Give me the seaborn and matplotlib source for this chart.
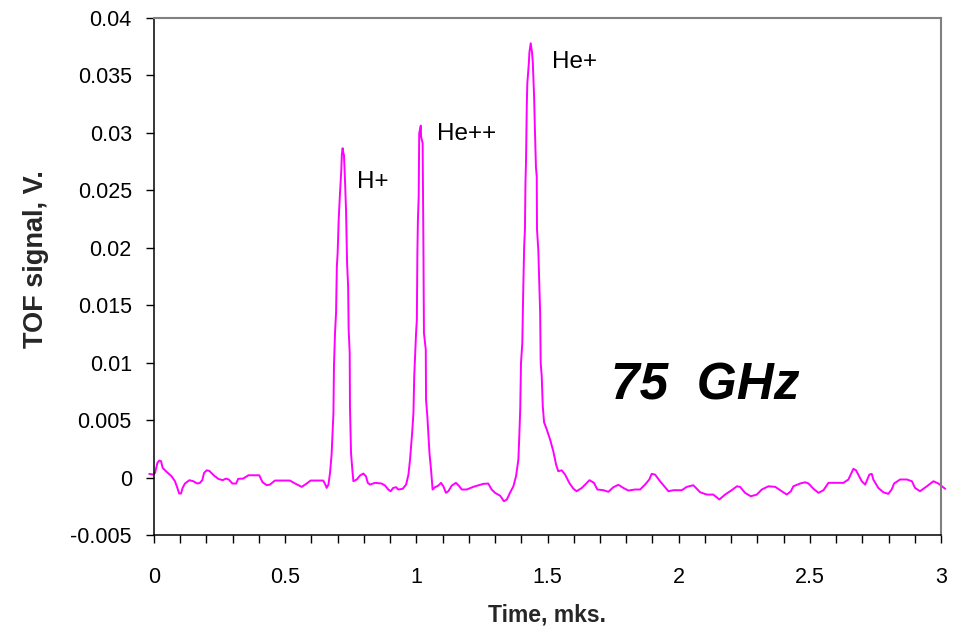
import matplotlib
matplotlib.use("Agg")
import matplotlib.pyplot as plt
import seaborn as sns
import pandas as pd
from matplotlib.ticker import MultipleLocator, FuncFormatter

time_mks = [
    -0.018, -0.003, 0.004, 0.013, 0.020, 0.027, 0.033, 0.048, 0.067, 0.080,
    0.089, 0.096, 0.103, 0.109, 0.118, 0.135, 0.150, 0.165, 0.175, 0.184,
    0.191, 0.201, 0.211, 0.229, 0.245, 0.262, 0.274, 0.285, 0.299, 0.313,
    0.321, 0.340, 0.360, 0.401, 0.414, 0.430, 0.442, 0.461, 0.518, 0.538,
    0.563, 0.582, 0.597, 0.645, 0.655, 0.658, 0.665,
    0.671, 0.677, 0.684, 0.686, 0.690, 0.694, 0.697, 0.700, 0.704, 0.709,
    0.714, 0.716, 0.719, 0.722, 0.724, 0.728, 0.732, 0.736, 0.740, 0.742,
    0.746, 0.747, 0.751, 0.756, 0.760, 0.773, 0.785, 0.798, 0.808, 0.815,
    0.823, 0.843, 0.868, 0.881, 0.893, 0.902, 0.912, 0.923, 0.931, 0.948,
    0.961, 0.970, 0.976, 0.984, 0.989, 0.992, 0.999, 1.002, 1.004, 1.006,
    1.009, 1.011, 1.017, 1.018, 1.024, 1.027, 1.029, 1.036, 1.037, 1.042,
    1.050, 1.056, 1.062, 1.071, 1.084, 1.094, 1.103, 1.113, 1.122, 1.135,
    1.151, 1.164, 1.173, 1.192, 1.217, 1.255, 1.274, 1.287, 1.300, 1.319,
    1.334, 1.345, 1.357, 1.370, 1.380, 1.389,
    1.392, 1.396, 1.399, 1.404, 1.407, 1.411, 1.414, 1.416, 1.418, 1.421,
    1.423, 1.429, 1.431, 1.436, 1.441, 1.444, 1.449, 1.452, 1.456, 1.459,
    1.460, 1.465, 1.472, 1.474, 1.478, 1.482, 1.487, 1.497, 1.510, 1.522,
    1.533, 1.541, 1.554, 1.567, 1.583, 1.599, 1.611, 1.631, 1.660, 1.677,
    1.690, 1.713, 1.732, 1.751, 1.770, 1.789, 1.808, 1.834, 1.853, 1.872,
    1.888, 1.897, 1.910, 1.929, 1.961, 1.980, 2.012, 2.031, 2.056, 2.082,
    2.107, 2.132, 2.155, 2.177, 2.202, 2.222, 2.234, 2.253, 2.275, 2.298,
    2.317, 2.342, 2.368, 2.387, 2.412, 2.428, 2.437, 2.463, 2.482, 2.495,
    2.514, 2.533, 2.552, 2.571, 2.628, 2.647, 2.666, 2.676, 2.698, 2.711,
    2.727, 2.736, 2.742, 2.761, 2.780, 2.799, 2.812, 2.821, 2.844, 2.870,
    2.889, 2.901, 2.920, 2.946, 2.971, 2.990, 3.016,
]

tof_signal_v = [
    0.00032, 0.00026, 0.00041, 0.00128, 0.00148, 0.00142, 0.00084, 0.00050, 0.00011, -0.00032,
    -0.00090, -0.00139, -0.00139, -0.00090, -0.00052, -0.00023, -0.00032, -0.00052, -0.00046, -0.00023,
    0.00041, 0.00063, 0.00058, 0.00017, -0.00011, -0.00023, -0.00009, -0.00017, -0.00052, -0.00052,
    -0.00011, -0.00009, 0.00020, 0.00020, -0.00041, -0.00067, -0.00061, -0.00026, -0.00026, -0.00052,
    -0.00081, -0.00052, -0.00026, -0.00026, -0.00070, -0.00090, -0.00061,
    0.00041, 0.00200, 0.00563, 0.00968, 0.01258, 0.01432, 0.01837, 0.01954, 0.02243, 0.02476,
    0.02678, 0.02809, 0.02867, 0.02823, 0.02809, 0.02591, 0.02330, 0.01867, 0.01663, 0.01287,
    0.01084, 0.00620, 0.00215, 0.00070, -0.00032, -0.00017, 0.00017, 0.00035, 0.00011, -0.00046,
    -0.00061, -0.00046, -0.00052, -0.00070, -0.00104, -0.00119, -0.00090, -0.00084, -0.00104, -0.00098,
    -0.00061, 0.00026, 0.00157, 0.00389, 0.00563, 0.00881, 0.01258, 0.01374, 0.01954, 0.02243,
    0.02446, 0.02997, 0.03063, 0.02968, 0.02911, 0.02011, 0.01258, 0.01113, 0.00678, 0.00533,
    0.00215, 0.00070, -0.00104, -0.00084, -0.00070, -0.00046, -0.00076, -0.00133, -0.00119, -0.00070,
    -0.00046, -0.00076, -0.00104, -0.00104, -0.00081, -0.00055, -0.00052, -0.00104, -0.00133, -0.00157,
    -0.00206, -0.00191, -0.00133, -0.00076, 0.00011, 0.00157,
    0.00330, 0.00590, 0.01000, 0.01170, 0.01570, 0.02010, 0.02160, 0.02570, 0.02740, 0.03230,
    0.03430, 0.03610, 0.03700, 0.03780, 0.03700, 0.03610, 0.03310, 0.03030, 0.02700, 0.02620,
    0.02160, 0.01980, 0.01430, 0.01000, 0.00880, 0.00620, 0.00480, 0.00420, 0.00330, 0.00230,
    0.00110, 0.00055, 0.00063, 0.00026, -0.00046, -0.00098, -0.00119, -0.00090, -0.00023, -0.00046,
    -0.00104, -0.00110, -0.00124, -0.00084, -0.00063, -0.00090, -0.00113, -0.00104, -0.00104, -0.00061,
    -0.00017, 0.00032, 0.00026, -0.00032, -0.00119, -0.00110, -0.00110, -0.00081, -0.00067, -0.00128,
    -0.00148, -0.00148, -0.00191, -0.00148, -0.00110, -0.00076, -0.00081, -0.00133, -0.00163, -0.00148,
    -0.00104, -0.00076, -0.00081, -0.00110, -0.00148, -0.00119, -0.00076, -0.00052, -0.00041, -0.00052,
    -0.00098, -0.00133, -0.00110, -0.00046, -0.00046, -0.00017, 0.00076, 0.00063, -0.00032, -0.00061,
    0.00026, 0.00032, -0.00017, -0.00090, -0.00128, -0.00142, -0.00104, -0.00052, -0.00017, -0.00017,
    -0.00032, -0.00090, -0.00119, -0.00076, -0.00032, -0.00052, -0.00098,
]

peak_labels = ["H+", "He++", "He+"]
peak_label_t = [0.774, 1.079, 1.517]
peak_label_v = [0.0257, 0.0299, 0.0362]

freq_label = "75  GHz"
freq_label_t = 1.742
freq_label_v = 0.0080

x_label = "Time, mks."
y_label = "TOF signal, V."

sns.set_style("white")
plt.rcParams["font.family"] = ["Liberation Sans", "DejaVu Sans"]

df = pd.DataFrame({"t": time_mks, "v": tof_signal_v})

fig = plt.figure(figsize=(9.64, 6.32), dpi=100)
ax = fig.add_axes([154 / 964, 1 - 535 / 632, (941 - 154) / 964, (535 - 18) / 632])

sns.lineplot(data=df, x="t", y="v", ax=ax, sort=False, estimator=None,
             color="#FF00FF", linewidth=1.4, clip_on=False)

ax.set_xlim(0, 3)
ax.set_ylim(-0.005, 0.04)
ax.xaxis.set_major_locator(MultipleLocator(0.5))
ax.xaxis.set_minor_locator(MultipleLocator(0.1))
ax.yaxis.set_major_locator(MultipleLocator(0.005))
fmt = FuncFormatter(lambda val, pos: "%g" % round(val, 6))
ax.xaxis.set_major_formatter(fmt)
ax.yaxis.set_major_formatter(fmt)

ax.tick_params(axis="both", which="both", direction="out", length=6, width=1,
               color="black", labelsize=15.5, labelcolor="black")
ax.tick_params(axis="x", which="both", bottom=True, pad=17)
ax.tick_params(axis="y", which="both", left=True, pad=10)

for side in ["left", "bottom"]:
    ax.spines[side].set_color("black")
    ax.spines[side].set_linewidth(1.1)
for side in ["top", "right"]:
    ax.spines[side].set_visible(True)
    ax.spines[side].set_color("#808080")
    ax.spines[side].set_linewidth(1.5)

ax.set_xlabel(x_label, fontsize=16.5, fontweight="bold")
ax.set_ylabel(y_label, fontsize=19.5, fontweight="bold")
ax.xaxis.set_label_coords(0.5, -0.133)
ax.yaxis.set_label_coords(-0.1334, 0.534)

for lab, tt, vv in zip(peak_labels, peak_label_t, peak_label_v):
    ax.text(tt, vv, lab, fontsize=17.5, ha="left", va="center", color="black")

ax.text(freq_label_t, freq_label_v, freq_label, fontsize=37, fontweight="bold",
        fontstyle="italic", ha="left", va="center", color="black")

fig.savefig("out.png", dpi=100)
